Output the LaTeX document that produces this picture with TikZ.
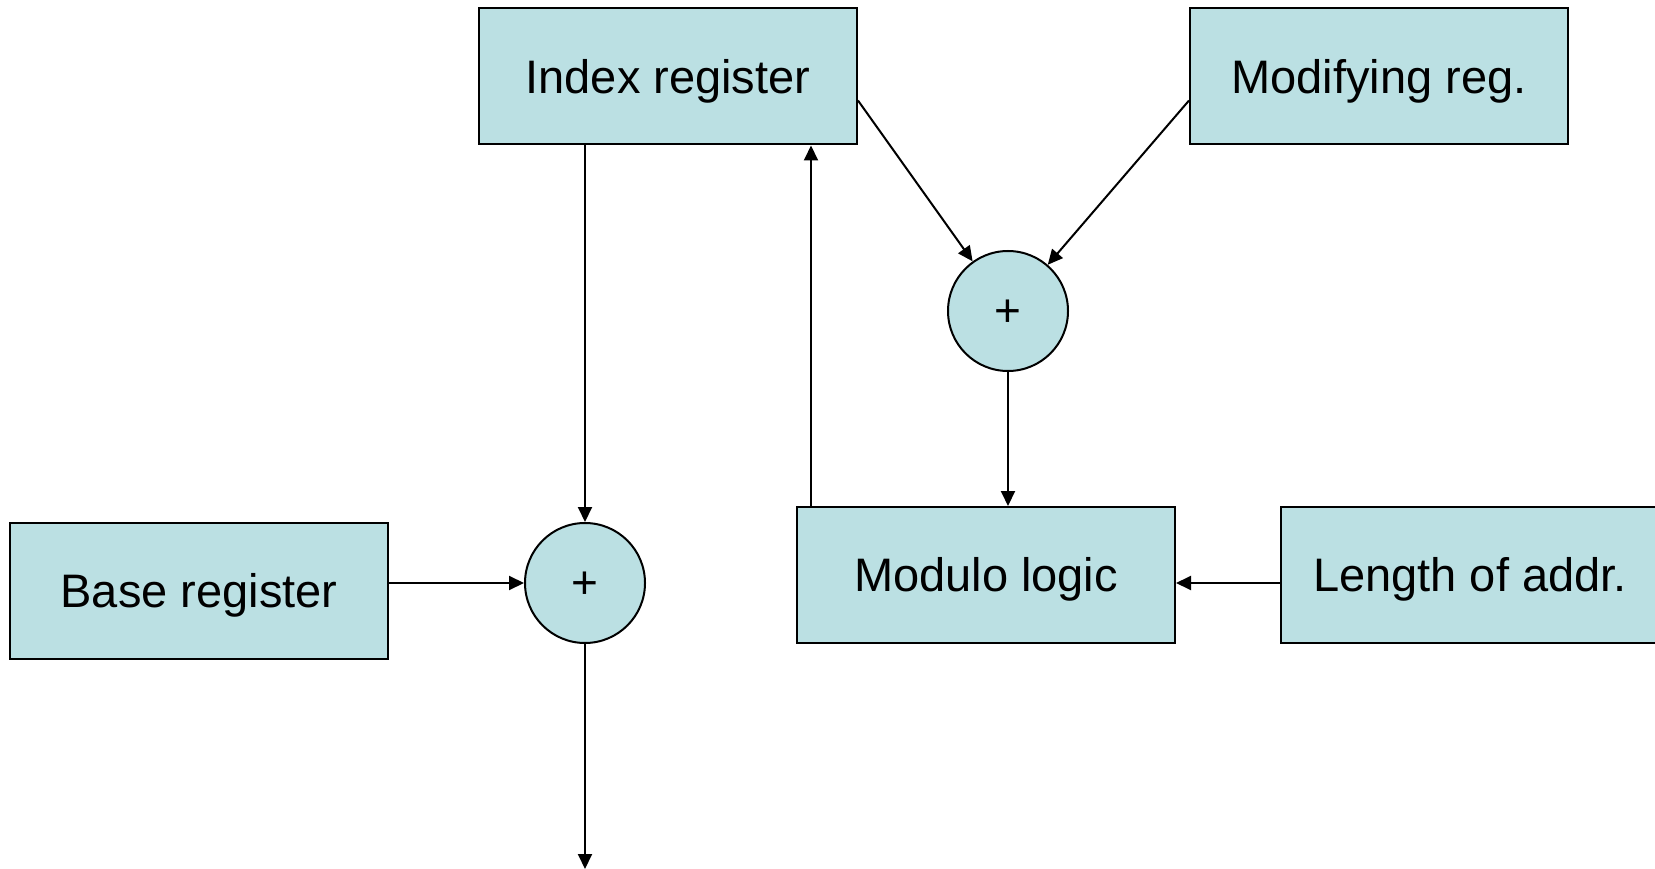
\documentclass[tikz,border=0pt]{standalone}
\usepackage{fontspec}
\setmainfont{Liberation Sans}
\usetikzlibrary{arrows.meta}
\definecolor{boxfill}{HTML}{BBE0E3}
\tikzset{
  x=1pt, y=-1pt,
  regbox/.style={draw=black, line width=2pt, fill=boxfill, minimum width=378pt,
    minimum height=136pt, inner sep=0pt, text height=33.6pt, text depth=0pt,
    font=\fontsize{47}{56}\selectfont},
  adder/.style={draw=black, line width=2pt, fill=boxfill, circle, minimum size=120pt,
    inner sep=0pt, text height=30pt, text depth=0pt, font=\fontsize{46}{54}\selectfont},
  flow/.style={line width=2pt, -{Triangle[length=15pt,width=14pt]}}
}
\begin{document}
\begin{tikzpicture}
\useasboundingbox (0,0) rectangle (1655,869);
\begin{scope}
\clip (0,0) rectangle (1655,869);
\node[regbox] (idx) at (668,76.5) {Index register};
\node[regbox] (modreg) at (1379,76.5) {Modifying reg.};
\node[regbox] (base) at (199,590.5) {Base register};
\node[regbox] (modlog) at (986,575) {Modulo logic};
\node[regbox] (len) at (1470,575) {Length of addr.};
\node[adder] (sum1) at (1008,311) {+};
\node[adder] (sum2) at (585,583) {+};
\coordinate (out) at (585,869);

\draw[flow] ([yshift=-24pt]idx.east) -- (sum1);
\draw[flow] ([yshift=-24pt]modreg.west) -- (sum1);
\draw[flow] (sum1) -- (sum1 |- modlog.north);
\draw[flow] ([xshift=15pt]modlog.north west) -- ([xshift=15pt]modlog.north west |- idx.south);
\draw[flow] ([yshift=-8pt]len.west) -- ([yshift=-8pt]modlog.east);
\draw[flow] (sum2 |- idx.south) -- (sum2);
\draw[flow] (sum2 -| base.east) -- (sum2);
\draw[flow] (sum2) -- (out);
\end{scope}
\end{tikzpicture}
\end{document}
